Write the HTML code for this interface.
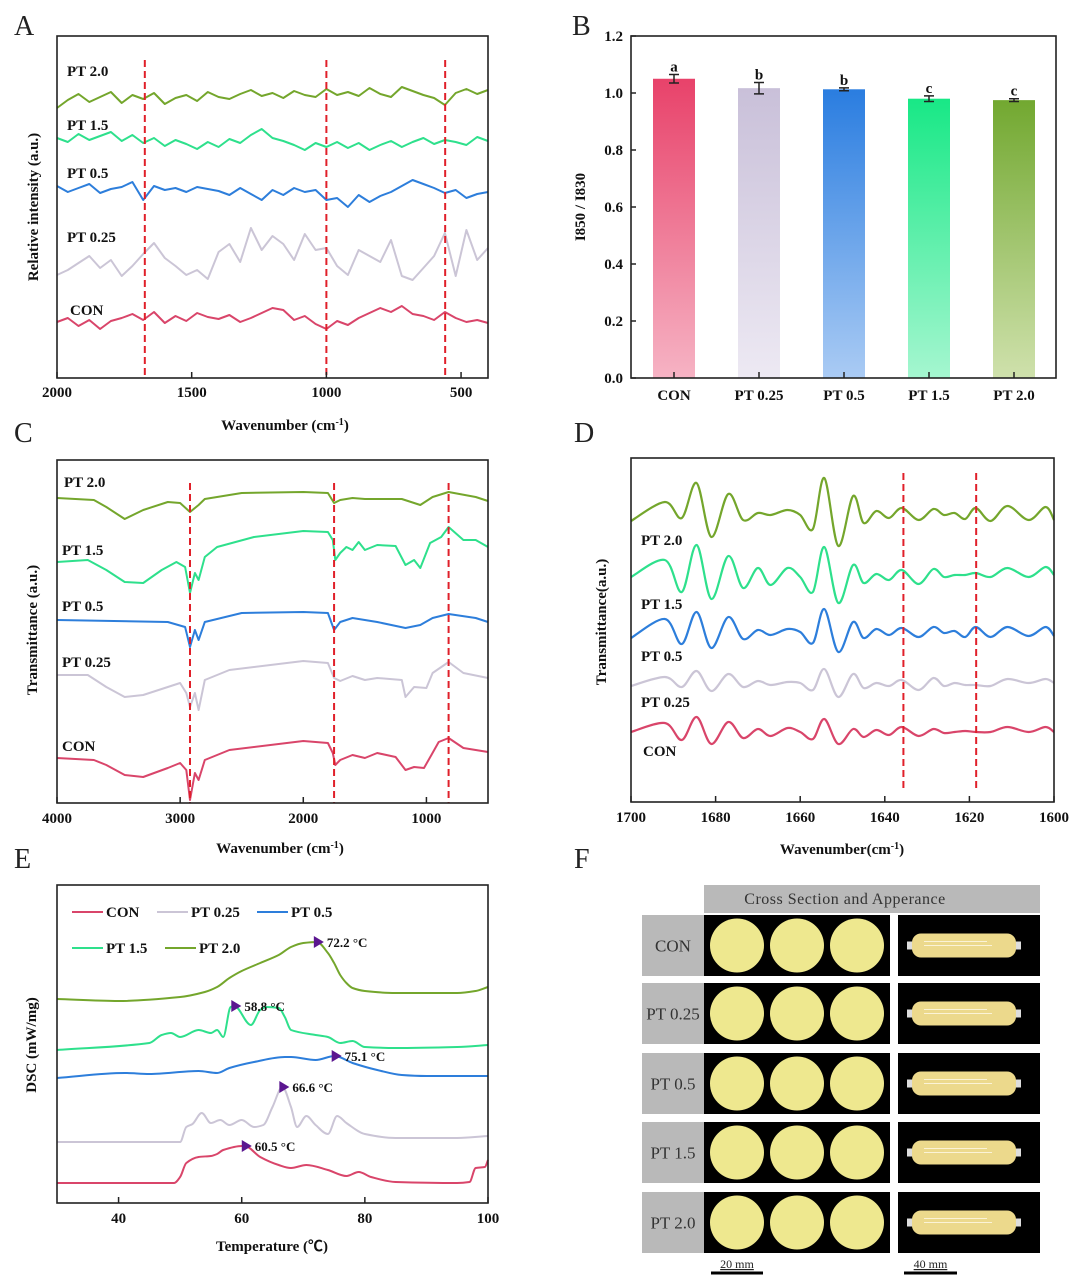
<!DOCTYPE html>
<html><head><meta charset="utf-8">
<style>
html,body{margin:0;padding:0;background:#fff;}
svg{display:block;font-family:"Liberation Serif",serif;}
</style></head>
<body>
<svg id="fig" width="1080" height="1285" viewBox="0 0 1080 1285" xmlns="http://www.w3.org/2000/svg">
<defs>
<linearGradient id="g0" x1="0" y1="0" x2="0" y2="1"><stop offset="0" stop-color="#e8426a"/><stop offset="1" stop-color="#f6b3c4"/></linearGradient>
<linearGradient id="g1" x1="0" y1="0" x2="0" y2="1"><stop offset="0" stop-color="#c9c0d9"/><stop offset="1" stop-color="#ede9f3"/></linearGradient>
<linearGradient id="g2" x1="0" y1="0" x2="0" y2="1"><stop offset="0" stop-color="#2a7de0"/><stop offset="1" stop-color="#aacbf4"/></linearGradient>
<linearGradient id="g3" x1="0" y1="0" x2="0" y2="1"><stop offset="0" stop-color="#18e886"/><stop offset="1" stop-color="#a5f6d0"/></linearGradient>
<linearGradient id="g4" x1="0" y1="0" x2="0" y2="1"><stop offset="0" stop-color="#72a830"/><stop offset="1" stop-color="#cfe1ac"/></linearGradient>
</defs>
</svg>
<script>
// ---------- Panel A data ----------
const aStart = 2000, aStep = 40;
const aPT20 = [270,278,284,276,281,286,275,283,279,285,274,280,283,277,286,281,279,284,288,282,285,280,287,283,281,289,283,286,282,290,284,281,291,287,283,280,273,285,289,284,288];
const aPT15 = [240,236,244,238,242,246,237,243,235,240,232,238,234,229,236,231,239,235,243,249,240,237,233,228,235,231,236,230,235,228,233,237,231,236,240,234,238,236,233,241,237];
const aPT05 = [192,186,190,194,185,189,191,196,178,192,188,190,186,191,189,187,183,190,184,178,188,183,190,186,188,178,180,171,183,176,182,186,192,198,194,190,185,188,180,184,186];
const aPT025 = [103,108,115,122,110,118,102,112,124,135,120,112,103,108,99,126,134,116,150,128,142,134,118,144,128,130,112,103,128,122,116,138,102,98,110,122,145,102,148,118,130];
const aCON = [56,60,52,58,49,57,60,64,58,66,55,62,57,65,61,59,63,56,60,65,70,68,58,62,54,49,57,53,60,65,70,66,72,64,62,58,66,60,56,58,55];
const aTicks = [2000,1500,1000,500];
const aMarks = [1674,1000,559];

// ---------- Panel B data ----------
const bCats = ["CON","PT 0.25","PT 0.5","PT 1.5","PT 2.0"];
const bVals = [1.05,1.017,1.013,0.980,0.975];
const bErr = [0.015,0.02,0.005,0.01,0.005];
const bSig = ["a","b","b","c","c"];
const bTicks = [0.0,0.2,0.4,0.6,0.8,1.0,1.2];

// ---------- Panel C data ----------
const cPT20w = [4000,3700,3600,3450,3300,3100,3000,2920,2850,2800,2500,2000,1800,1750,1700,1600,1500,1200,1050,950,820,600,500];
const cPT20v = [305,303,296,284,293,301,300,291,298,304,310,311,310,300,303,305,304,304,298,306,311,306,302];
const cPT15w = [4000,3750,3600,3450,3300,3150,3030,2960,2920,2880,2850,2800,2700,2400,2000,1800,1760,1740,1700,1650,1600,1550,1500,1400,1250,1170,1100,1050,970,880,820,700,600,500];
const cPT15v = [241,243,233,221,220,233,241,236,210,230,223,246,256,266,272,271,263,243,250,256,253,261,253,258,257,238,243,235,260,266,276,263,263,256];
const cPT05w = [4000,3100,2960,2920,2880,2850,2800,2500,2000,1800,1750,1700,1600,1400,1170,1050,950,820,600,500];
const cPT05v = [183,181,176,156,173,163,181,190,191,190,173,181,185,181,175,178,185,189,185,181];
const cPT025w = [4000,3750,3600,3450,3300,3100,3000,2950,2920,2880,2850,2800,2600,2000,1800,1750,1700,1600,1500,1400,1200,1170,1100,1000,950,820,700,500];
const cPT025v = [128,128,116,106,108,116,120,110,96,110,93,123,133,142,140,125,122,127,123,125,123,106,116,115,130,141,130,125];
const cCONw = [4000,3700,3600,3450,3300,3100,3000,2950,2920,2880,2850,2800,2600,2000,1800,1760,1740,1700,1600,1500,1400,1250,1170,1100,1020,960,900,820,700,500];
const cCONv = [45,43,38,28,26,35,40,33,3,30,23,43,53,62,60,50,38,43,48,45,50,46,33,36,35,48,61,65,55,51];
const cTicks = [4000,3000,2000,1000];
const cMarks = [2920,1750,820];

// ---------- Panel D data ----------
const dW = [1700,1692,1688,1684.5,1681,1677,1673.5,1670,1667,1663,1660,1657,1654.3,1651,1647.5,1645,1642,1639,1636,1632,1628.5,1626,1623.5,1621,1618.5,1615,1611,1606,1602,1600];
const dPT20 = [281,300,284,319,265,308,282,289,287,292,287,273,324,256,306,279,291,284,294,282,293,287,289,283,294,281,296,282,295,282];
const dPT15 = [225,242,210,257,203,246,214,234,217,234,225,210,255,199,237,219,228,222,232,218,233,225,227,227,229,225,234,225,235,227];
const dPT05 = [164,183,158,190,154,185,163,172,167,173,170,159,193,150,180,164,173,167,174,165,175,169,171,165,175,165,175,166,175,166];
const dPT025 = [116,125,115,131,111,128,115,121,117,120,119,112,133,105,128,114,119,116,122,112,124,116,119,117,117,116,123,119,123,119];
const dCON = [70,79,62,85,58,80,64,73,66,74,70,63,83,58,73,65,72,67,75,66,73,69,70,71,70,70,75,70,75,70];
const dTicks = [1700,1680,1660,1640,1620,1600];
const dMarks = [1635.6,1618.4];

// ---------- Panel E data ----------
const ePT20t = [30,40,50,54,56,58,60,63,66,68,70,72.2,74,75,76,77,78,80,85,95,98,100];
const ePT20v = [204,202,206,211,216,225,232,240,248,256,260,261,250,240,228,220,215,212,210,210,212,216];
const ePT15t = [30,45,47,48.5,50,53,55,56,57,58.2,58.8,61.5,63,64,66,67,68,72,74,76,78,80,85,95,100];
const ePT15v = [153,160,168,170,166,173,170,173,166,196,197,178,193,196,195,186,173,168,166,160,162,156,155,156,158];
const ePT05t = [30,41,45,53,56,58,62,67,68,72,75.1,78,82,86,90,100];
const ePT05v = [125,130,129,132,130,135,141,146,146,143,147,140,133,128,127,127];
const ePT025t = [30,50,51,52,53.5,55,56.5,58,60,62,63.5,65,66.6,68,69,70.5,72,74,75.5,77,80,85,95,100];
const ePT025v = [61,61,76,79,90,80,83,78,83,76,78,96,116,96,76,87,78,69,87,80,69,65,65,67];
const eCONt = [30,49,50,51,53,55,56,57,60,60.5,63,66,68,70.5,74,77,79,81,85,95,97,98,99.5,100];
const eCONv = [20,20,26,40,46,47,49,53,57,57,46,38,35,38,33,27,31,26,21,20,21,35,36,43];
const ePeaksT = [72.2,58.8,75.1,66.6,60.5];
const ePeaksV = [261,197,147,116,57];
const ePeakLbl = ["72.2 °C","58.8 °C","75.1 °C","66.6 °C","60.5 °C"];
const eTicks = [40,60,80,100];

// ---------- helpers ----------
const NS = 'http://www.w3.org/2000/svg';
const svg = document.getElementById('fig');
function mk(tag, attrs, parent){
  const e = document.createElementNS(NS, tag);
  for (const k in attrs) e.setAttribute(k, attrs[k]);
  (parent || svg).appendChild(e);
  return e;
}
function txt(x, y, s, size, anchor, parent, extra){
  const a = {x:x, y:y, 'font-size':size, 'font-weight':'bold', 'text-anchor':anchor||'start', fill:'#111'};
  if (extra) for (const k in extra) a[k] = extra[k];
  const t = mk('text', a, parent);
  t.textContent = s;
  return t;
}
function lin(d0,d1,r0,r1){ return v => r0 + (v-d0)*(r1-r0)/(d1-d0); }
function smoothPath(pts){
  let d = 'M' + pts[0][0].toFixed(1) + ',' + pts[0][1].toFixed(1);
  for (let i=0;i<pts.length-1;i++){
    const p0 = pts[i-1]||pts[i], p1 = pts[i], p2 = pts[i+1], p3 = pts[i+2]||p2;
    const c1x = p1[0]+(p2[0]-p0[0])/6, c1y = p1[1]+(p2[1]-p0[1])/6;
    const c2x = p2[0]-(p3[0]-p1[0])/6, c2y = p2[1]-(p3[1]-p1[1])/6;
    d += 'C'+c1x.toFixed(1)+','+c1y.toFixed(1)+' '+c2x.toFixed(1)+','+c2y.toFixed(1)+' '+p2[0].toFixed(1)+','+p2[1].toFixed(1);
  }
  return d;
}
function monoPath(pts){
  const n = pts.length, dx=[], s=[], m=[];
  for (let i=0;i<n-1;i++){ dx[i]=pts[i+1][0]-pts[i][0]; s[i]=(pts[i+1][1]-pts[i][1])/dx[i]; }
  m[0]=s[0]; m[n-1]=s[n-2];
  for (let i=1;i<n-1;i++){ m[i] = (s[i-1]*s[i]<=0) ? 0 : 2/(1/s[i-1]+1/s[i]); }
  let d = 'M'+pts[0][0].toFixed(1)+','+pts[0][1].toFixed(1);
  for (let i=0;i<n-1;i++){
    const h = dx[i]/3;
    d += 'C'+(pts[i][0]+h).toFixed(1)+','+(pts[i][1]+m[i]*h).toFixed(1)+' '+(pts[i+1][0]-h).toFixed(1)+','+(pts[i+1][1]-m[i+1]*h).toFixed(1)+' '+pts[i+1][0].toFixed(1)+','+pts[i+1][1].toFixed(1);
  }
  return d;
}
function polyPath(pts){ return 'M' + pts.map(p=>p[0].toFixed(1)+','+p[1].toFixed(1)).join('L'); }
function frame(g, x0,y0,x1,y1){
  const r = mk('rect',{x:x0,y:y0,width:x1-x0,height:y1-y0,fill:'none',stroke:'#222','stroke-width':1.6},g);
  
  
}
function panelLetter(x,y,s){
  const t = mk('text',{x:x,y:y,'font-size':28,fill:'#222'});
  t.textContent = s;
  
  
}

const COL = {con:'#d9456a', p025:'#cbc5d6', p05:'#2d7edb', p15:'#2ee08c', p20:'#74a62c'};

// ======== Panel A ========
(function(){
  const g = mk('g',{});
  
  
  const X = lin(2000,400,57,488), Y = v => 378 - v;
  panelLetter(14,35,'A');
  const series = [[aPT20,COL.p20,'pt-2.0'],[aPT15,COL.p15,'pt-1.5'],[aPT05,COL.p05,'pt-0.5'],[aPT025,COL.p025,'pt-0.25'],[aCON,COL.con,'con']];
  series.forEach(s=>{
    const pts = s[0].map((v,i)=>[X(aStart - aStep*i), Y(v)]);
    const p = mk('path',{d:polyPath(pts),fill:'none',stroke:s[1],'stroke-width':2,'stroke-linejoin':'round'},g);
    
    
  });
  aMarks.forEach(w=>{
    const l = mk('line',{x1:X(w),x2:X(w),y1:60,y2:378,stroke:'#e0202a','stroke-width':2,'stroke-dasharray':'7,4'},g);
    
    
  });
  frame(g,57,36,488,378);
  aTicks.forEach(t=>{
    const l = mk('line',{x1:X(t),x2:X(t),y1:378,y2:372,stroke:'#222','stroke-width':1.5},g);
    
    
    const tt = txt(X(t),397,String(t),15,'middle',g);
    
    
  });
  const labels = [['PT 2.0',67,76],['PT 1.5',67,130],['PT 0.5',67,178],['PT 0.25',67,242],['CON',70,315]];
  labels.forEach(l=>{
    const t = txt(l[1],l[2],l[0],15,'start',g);
    
    
  });
  const xt = txt(285,430,'Wavenumber (cm',15,'middle',g);
  const sup = mk('tspan',{'baseline-shift':'super','font-size':10},xt); sup.textContent='-1';
  const cl = mk('tspan',{},xt); cl.textContent=')';
  
  
  const yt = txt(0,0,'Relative intensity (a.u.)',15,'middle',g,{transform:'translate(38,207) rotate(-90)'});
  
  
})();

// ======== Panel B ========
(function(){
  const g = mk('g',{});
  
  
  panelLetter(572,35,'B');
  const Y = lin(0,1.2,378,36);
  const x0 = 631, x1 = 1056, bw = 42;
  const X = i => 674 + i*85;
  bVals.forEach((v,i)=>{
    const r = mk('rect',{x:X(i)-bw/2,y:Y(v),width:bw,height:378-Y(v),fill:'url(#g'+i+')'},g);
    
    
    const e = mk('path',{d:'M'+X(i)+','+Y(v+bErr[i])+'V'+Y(v-bErr[i])+'M'+(X(i)-5)+','+Y(v+bErr[i])+'h10M'+(X(i)-5)+','+Y(v-bErr[i])+'h10',stroke:'#222','stroke-width':1.5,fill:'none'},g);
    
    
    const s = txt(X(i),Y(v+bErr[i])-3,bSig[i],15,'middle',g);
    
    
    const l = txt(X(i),400,bCats[i],15,'middle',g);
    
    
    const tk = mk('line',{x1:X(i),x2:X(i),y1:378,y2:372,stroke:'#222','stroke-width':1.5},g);
    
    
  });
  frame(g,x0,36,x1,378);
  bTicks.forEach(t=>{
    const l = mk('line',{x1:x0,x2:x0+5,y1:Y(t),y2:Y(t),stroke:'#222','stroke-width':1.5},g);
    
    
    const tt = txt(x0-8,Y(t)+5,t.toFixed(1),15,'end',g);
    
    
  });
  const yt = txt(0,0,'I850 / I830',15,'middle',g,{transform:'translate(585,207) rotate(-90)'});
  
  
})();

// ======== Panel C ========
(function(){
  const g = mk('g',{});
  
  
  panelLetter(14,442,'C');
  const X = lin(4000,500,57,488), Y = v => 803 - v;
  const series = [[cPT20w,cPT20v,COL.p20,'pt-2.0'],[cPT15w,cPT15v,COL.p15,'pt-1.5'],[cPT05w,cPT05v,COL.p05,'pt-0.5'],[cPT025w,cPT025v,COL.p025,'pt-0.25'],[cCONw,cCONv,COL.con,'con']];
  series.forEach(s=>{
    const pts = s[0].map((w,i)=>[X(w),Y(s[1][i])]);
    const p = mk('path',{d:polyPath(pts),fill:'none',stroke:s[2],'stroke-width':2,'stroke-linejoin':'round'},g);
    
    
  });
  cMarks.forEach(w=>{
    const l = mk('line',{x1:X(w),x2:X(w),y1:483,y2:803,stroke:'#e0202a','stroke-width':2,'stroke-dasharray':'7,4'},g);
    
    
  });
  frame(g,57,460,488,803);
  cTicks.forEach(t=>{
    const l = mk('line',{x1:X(t),x2:X(t),y1:803,y2:797,stroke:'#222','stroke-width':1.5},g);
    
    
    const tt = txt(X(t),823,String(t),15,'middle',g);
    
    
  });
  const labels = [['PT 2.0',64,487],['PT 1.5',62,555],['PT 0.5',62,611],['PT 0.25',62,667],['CON',62,751]];
  labels.forEach(l=>{
    const t = txt(l[1],l[2],l[0],15,'start',g);
    
    
  });
  const xt = txt(280,853,'Wavenumber (cm',15,'middle',g);
  const sup = mk('tspan',{'baseline-shift':'super','font-size':10},xt); sup.textContent='-1';
  const cl = mk('tspan',{},xt); cl.textContent=')';
  
  
  const yt = txt(0,0,'Transmittance (a.u.)',15,'middle',g,{transform:'translate(37,630) rotate(-90)'});
  
  
})();

// ======== Panel D ========
(function(){
  const g = mk('g',{});
  
  
  panelLetter(574,442,'D');
  const X = lin(1700,1600,631,1054), Y = v => 802 - v;
  const series = [[dPT20,COL.p20,'pt-2.0'],[dPT15,COL.p15,'pt-1.5'],[dPT05,COL.p05,'pt-0.5'],[dPT025,COL.p025,'pt-0.25'],[dCON,COL.con,'con']];
  series.forEach(s=>{
    const pts = dW.map((w,i)=>[X(w),Y(s[0][i])]);
    const p = mk('path',{d:smoothPath(pts),fill:'none',stroke:s[1],'stroke-width':2.2},g);
    
    
  });
  dMarks.forEach(w=>{
    const l = mk('line',{x1:X(w),x2:X(w),y1:473,y2:790,stroke:'#e0202a','stroke-width':2,'stroke-dasharray':'7,4'},g);
    
    
  });
  frame(g,631,458,1054,802);
  dTicks.forEach(t=>{
    const l = mk('line',{x1:X(t),x2:X(t),y1:802,y2:796,stroke:'#222','stroke-width':1.5},g);
    
    
    const tt = txt(X(t),822,String(t),15,'middle',g);
    
    
  });
  const labels = [['PT 2.0',641,545],['PT 1.5',641,609],['PT 0.5',641,661],['PT 0.25',641,707],['CON',643,756]];
  labels.forEach(l=>{
    const t = txt(l[1],l[2],l[0],15,'start',g);
    
    
  });
  const xt = txt(842,854,'Wavenumber(cm',15,'middle',g);
  const sup = mk('tspan',{'baseline-shift':'super','font-size':10},xt); sup.textContent='-1';
  const cl = mk('tspan',{},xt); cl.textContent=')';
  
  
  const yt = txt(0,0,'Transmittance(a.u.)',15,'middle',g,{transform:'translate(606,622) rotate(-90)'});
  
  
})();

// ======== Panel E ========
(function(){
  const g = mk('g',{});
  
  
  panelLetter(14,868,'E');
  const X = lin(30,100,57,488), Y = v => 1203 - v;
  const series = [[ePT20t,ePT20v,COL.p20,'pt-2.0'],[ePT15t,ePT15v,COL.p15,'pt-1.5'],[ePT05t,ePT05v,COL.p05,'pt-0.5'],[ePT025t,ePT025v,COL.p025,'pt-0.25'],[eCONt,eCONv,COL.con,'con']];
  series.forEach(s=>{
    const pts = s[0].map((t,i)=>[X(t),Y(s[1][i])]);
    const p = mk('path',{d:monoPath(pts),fill:'none',stroke:s[2],'stroke-width':2},g);
    
    
  });
  ePeaksT.forEach((t,i)=>{
    const x = X(t), y = Y(ePeaksV[i]);
    const m = mk('path',{d:'M'+(x-3)+','+(y-6)+'L'+(x+7)+','+y+'L'+(x-3)+','+(y+6)+'Z',fill:'#5b1690'},g);
    
    
    const l = txt(x+10,y+5,ePeakLbl[i],13,'start',g);
    
    
  });
  frame(g,57,885,488,1203);
  eTicks.forEach(t=>{
    const l = mk('line',{x1:X(t),x2:X(t),y1:1203,y2:1197,stroke:'#222','stroke-width':1.5},g);
    
    
    const tt = txt(X(t),1223,String(t),15,'middle',g);
    
    
  });
  const leg = [['CON',COL.con,72,912],['PT 0.25',COL.p025,157,912],['PT 0.5',COL.p05,257,912],['PT 1.5',COL.p15,72,948],['PT 2.0',COL.p20,165,948]];
  leg.forEach(L=>{
    const lg = mk('g',{},g);
    
    
    mk('line',{x1:L[2],x2:L[2]+31,y1:L[3],y2:L[3],stroke:L[1],'stroke-width':2},lg);
    txt(L[2]+34,L[3]+5,L[0],15,'start',lg);
  });
  const xt = txt(272,1251,'Temperature (℃)',15,'middle',g,{'font-family':'"Liberation Serif","Noto Sans CJK SC",serif'});
  
  
  const yt = txt(0,0,'DSC (mW/mg)',15,'middle',g,{transform:'translate(36,1045) rotate(-90)'});
  
  
})();

// ======== Panel F ========
(function(){
  const g = mk('g',{});
  
  
  panelLetter(574,868,'F');
  const hdr = mk('rect',{x:704,y:885,width:336,height:28,fill:'#b9b9b9'},g);
  
  
  const ht = mk('text',{x:845,y:904,'font-size':16,'text-anchor':'middle',fill:'#333','letter-spacing':'0.5'},g);
  ht.textContent = 'Cross Section and Apperance';
  
  
  const rows = ['CON','PT 0.25','PT 0.5','PT 1.5','PT 2.0'];
  const rowY = [915,983,1053,1122,1192];
  rows.forEach((r,i)=>{
    const y = rowY[i], h = 61;
    const rg = mk('g',{},g);
    
    
    mk('rect',{x:642,y:y,width:62,height:h,fill:'#b9b9b9'},rg);
    const t = mk('text',{x:673,y:y+h/2+6,'font-size':17,'text-anchor':'middle',fill:'#333'},rg);
    t.textContent = r;
    mk('rect',{x:704,y:y,width:186,height:h,fill:'#000'},rg);
    mk('rect',{x:898,y:y,width:142,height:h,fill:'#000'},rg);
    [737,797,857].forEach(cx=>{
      const c = mk('circle',{cx:cx,cy:y+h/2,r:27,fill:'#eee88f'},rg);
      
      
    });
    const sx = 912, sw = 104;
    mk('rect',{x:sx-5,y:y+h/2-4,width:8,height:8,fill:'#ddd'},rg);
    mk('rect',{x:sx+sw-3,y:y+h/2-4,width:8,height:8,fill:'#ddd'},rg);
    const s = mk('rect',{x:sx,y:y+h/2-12,width:sw,height:24,rx:9,fill:'#ecd98c'},rg);
    
    
    mk('line',{x1:sx+12,x2:sx+75,y1:y+h/2-4,y2:y+h/2-4,stroke:'#fbf3d6','stroke-width':1},rg);
    mk('line',{x1:sx+12,x2:sx+80,y1:y+h/2,y2:y+h/2,stroke:'#fbf3d6','stroke-width':1},rg);
  });
  const sb = [[711,763,'20 mm'],[904,957,'40 mm']];
  sb.forEach(b=>{
    const l = mk('line',{x1:b[0],x2:b[1],y1:1273,y2:1273,stroke:'#000','stroke-width':3},g);
    
    
    const t = mk('text',{x:(b[0]+b[1])/2,y:1268,'font-size':12,'text-anchor':'middle',fill:'#222','text-decoration':'underline'},g);
    t.textContent = b[2];
    
    
  });
})();
</script>
</body></html>
